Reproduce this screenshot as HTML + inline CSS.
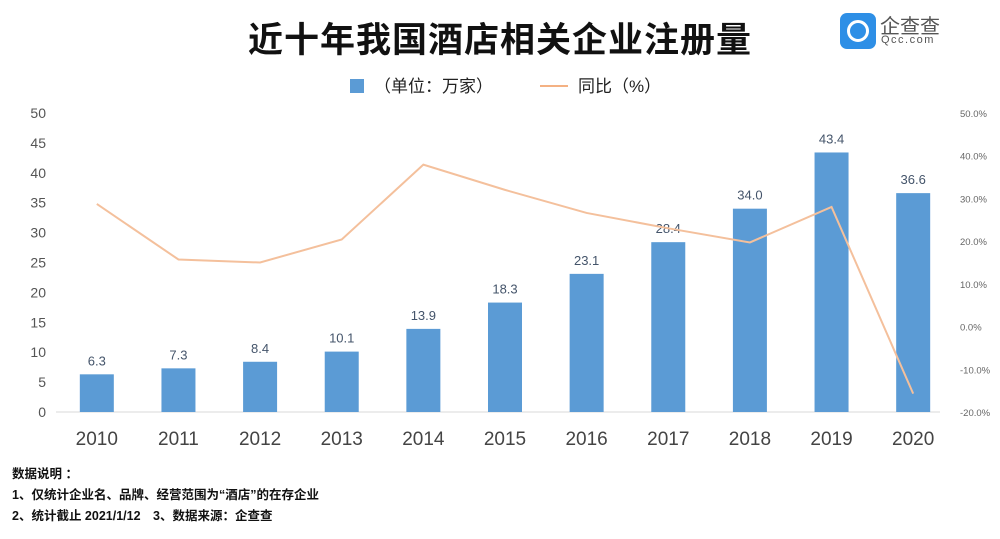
<!DOCTYPE html>
<html><head><meta charset="utf-8"><style>
html,body{margin:0;padding:0;background:#fff;}
body{width:1000px;height:539px;overflow:hidden;position:relative;font-family:"Liberation Sans","Noto Sans CJK SC",sans-serif;}
.t{position:absolute;}
</style></head><body>
<div class="t" style="left:0;width:1000px;top:12px;text-align:center;font-size:35px;font-weight:bold;color:#111;letter-spacing:1px;">近十年我国酒店相关企业注册量</div>
<div class="t" style="left:840px;top:13px;width:36px;height:36px;border-radius:7px;background:#2e8fe6;"><div style="position:absolute;left:7px;top:7px;width:16px;height:16px;border:3px solid #fff;border-radius:50%;"></div></div>
<div class="t" style="left:880px;top:10px;font-size:20px;color:#555;">企查查</div>
<div class="t" style="left:881px;top:34px;font-size:11px;color:#555;letter-spacing:1.5px;">Qcc.com</div>
<div class="t" style="left:350px;top:72px;font-size:17px;color:#222;"><span style="display:inline-block;width:14px;height:14px;background:#5b9bd5;vertical-align:-1px;margin-right:10px;"></span>（单位：万家）</div>
<div class="t" style="left:540px;top:72px;font-size:17px;color:#222;"><span style="display:inline-block;width:28px;height:2px;background:#f4b183;vertical-align:5px;margin-right:10px;"></span>同比（%）</div>
<svg id="c" class="t" style="left:0;top:0" width="1000" height="539"></svg>
<div class="t" style="left:12px;top:464px;font-size:12.5px;line-height:21px;color:#111;font-weight:bold;">数据说明 ：<br>1、仅统计企业名、品牌、经营范围为“酒店”的在存企业<br>2、统计截止 2021/1/12　3、数据来源：企查查</div>
<script>
const years=["2010","2011","2012","2013","2014","2015","2016","2017","2018","2019","2020"];
const counts=[6.3,7.3,8.4,10.1,13.9,18.3,23.1,28.4,34.0,43.4,36.6];
const yoy=[28.7,15.7,15.0,20.4,37.9,32.0,26.6,23.0,19.7,28.0,-15.7];
const leftTicks=[0,5,10,15,20,25,30,35,40,45,50];
const rightTicks=[-20,-10,0,10,20,30,40,50];
const NS="http://www.w3.org/2000/svg";
const svg=document.getElementById('c');
const x0=56,x1=954,yb=412,yt=113;
const xs=i=>x0+(x1-x0)/years.length*(i+0.5);
const yL=v=>yb-(v/50)*(yb-yt);
const yR=v=>yb-((v+20)/70)*(yb-yt);
function mk(t,a,txt){const e=document.createElementNS(NS,t);for(const k in a)e.setAttribute(k,a[k]);if(txt!==undefined)e.textContent=txt;svg.appendChild(e);return e;}
leftTicks.forEach(v=>{const e=mk('text',{x:46,y:yL(v)+5,'text-anchor':'end','font-size':14,fill:'#555'},v);

});
rightTicks.forEach(v=>{const e=mk('text',{x:960,y:yR(v)+4,'font-size':9.5,fill:'#666'},v.toFixed(1)+'%');

});
const ax=mk('line',{x1:x0,x2:940,y1:yb,y2:yb,stroke:'#d9d9d9','stroke-width':1});


counts.forEach((v,i)=>{const cx=xs(i);
const b=mk('rect',{x:cx-17,y:yL(v),width:34,height:yb-yL(v),fill:'#5b9bd5'});


const l=mk('text',{x:cx,y:yL(v)-9,'text-anchor':'middle','font-size':13,fill:'#44546a'},v.toFixed(1));


const t=mk('text',{x:cx,y:445,'text-anchor':'middle','font-size':19,fill:'#444'},years[i]);

});
const p=mk('polyline',{points:yoy.map((v,i)=>xs(i)+','+yR(v)).join(' '),fill:'none',stroke:'#f4c09c','stroke-width':2});


</script>
</body></html>
